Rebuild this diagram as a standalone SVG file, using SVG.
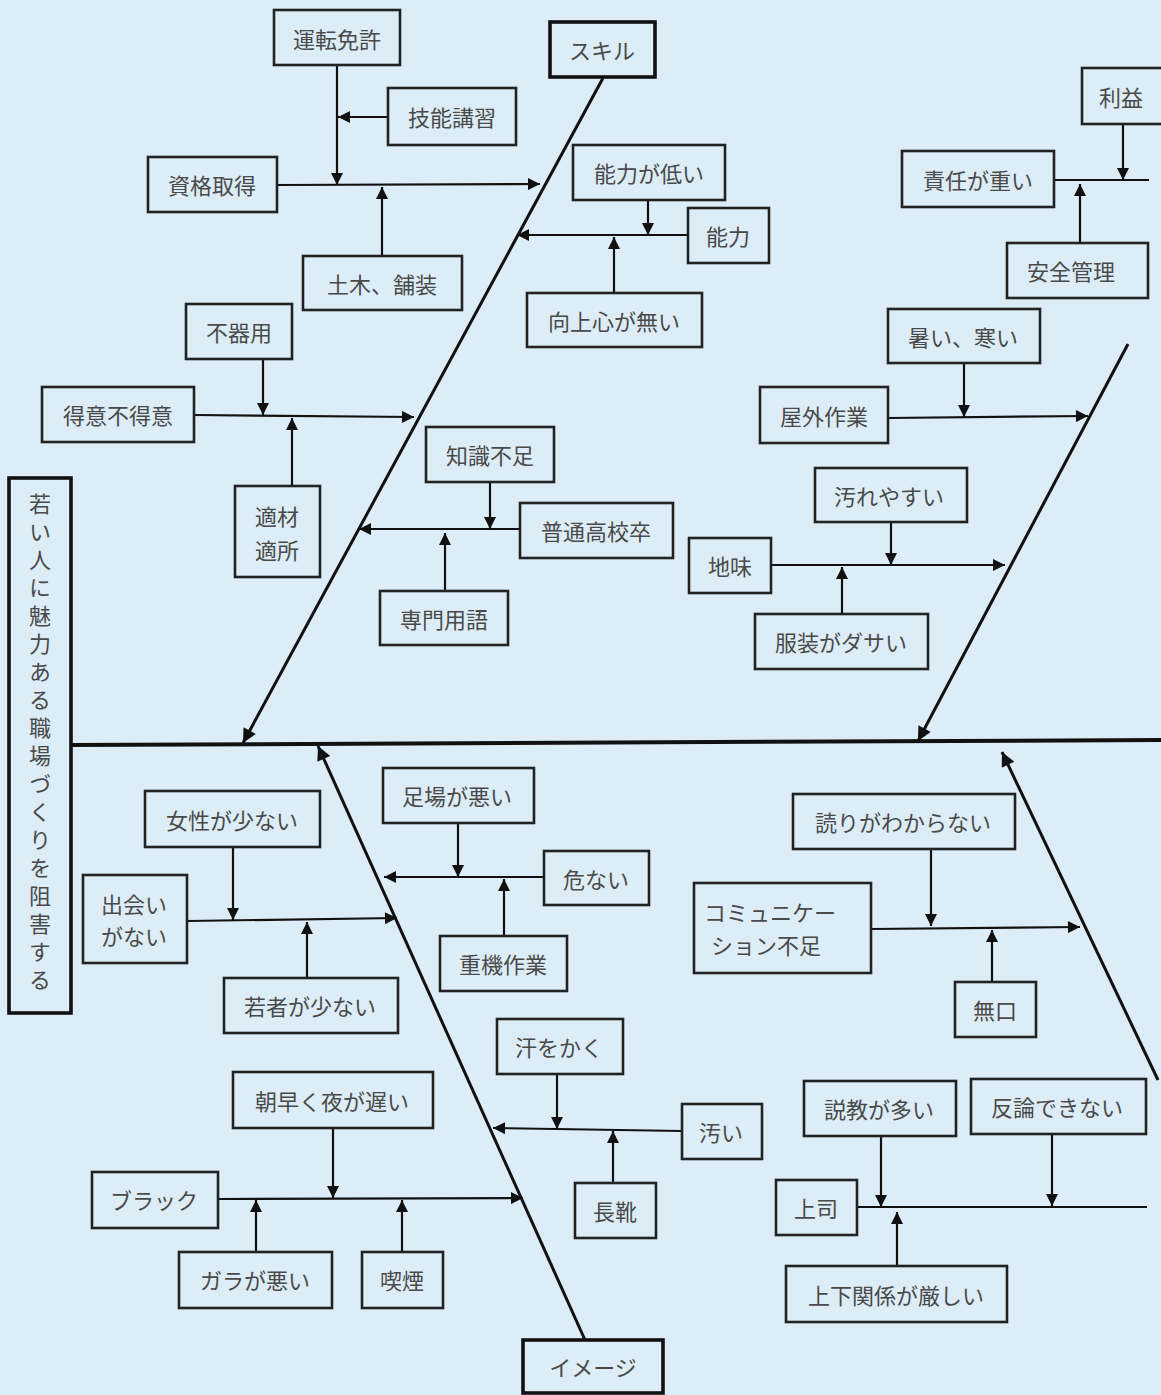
<svg xmlns="http://www.w3.org/2000/svg" width="1161" height="1395" viewBox="0 0 1161 1395">
<style>
.bx{fill:none;stroke:#222;stroke-width:2.6}
.bk{fill:none;stroke:#111;stroke-width:3.6}
.t{font-family:"Noto Sans CJK JP","Noto Sans",sans-serif;font-size:22px;fill:#4a4a4a;text-anchor:middle;dominant-baseline:central}
.ln{fill:none;stroke:#111;stroke-width:2.2}
.bone{fill:none;stroke:#111;stroke-width:3}
.spine{fill:none;stroke:#111;stroke-width:4}
</style>
<defs>
<marker id="ah" viewBox="0 0 10 10" refX="10" refY="5" markerWidth="13" markerHeight="12" markerUnits="userSpaceOnUse" orient="auto"><path d="M0,0 L10,5 L0,10 Z" fill="#111"/></marker>
<marker id="ahb" viewBox="0 0 10 10" refX="10" refY="5" markerWidth="17" markerHeight="14" markerUnits="userSpaceOnUse" orient="auto"><path d="M0,0 L10,5 L0,10 Z" fill="#111"/></marker>
</defs>
<rect width="1161" height="1395" fill="#dcedf7"/>

<g id="connectors">
<line class="spine" x1="70" y1="745" x2="1161" y2="740"/>
<line class="bone" x1="603" y1="78" x2="243" y2="743" marker-end="url(#ahb)"/>
<line class="bone" x1="585" y1="1340" x2="318" y2="746" marker-end="url(#ahb)"/>
<line class="bone" x1="1128" y1="344" x2="918" y2="741" marker-end="url(#ahb)"/>
<line class="bone" x1="1158" y1="1080" x2="1002" y2="752" marker-end="url(#ahb)"/>

<line class="ln" x1="277" y1="185" x2="540" y2="184" marker-end="url(#ah)"/>
<line class="ln" x1="337" y1="65" x2="337" y2="185" marker-end="url(#ah)"/>
<line class="ln" x1="388" y1="117" x2="338" y2="117" marker-end="url(#ah)"/>
<line class="ln" x1="382" y1="256" x2="382" y2="187" marker-end="url(#ah)"/>

<line class="ln" x1="688" y1="235" x2="517" y2="235" marker-end="url(#ah)"/>
<line class="ln" x1="648" y1="200" x2="648" y2="235" marker-end="url(#ah)"/>
<line class="ln" x1="614" y1="293" x2="614" y2="237" marker-end="url(#ah)"/>

<line class="ln" x1="194" y1="415" x2="414" y2="417" marker-end="url(#ah)"/>
<line class="ln" x1="263" y1="359" x2="263" y2="415" marker-end="url(#ah)"/>
<line class="ln" x1="292" y1="486" x2="292" y2="418" marker-end="url(#ah)"/>

<line class="ln" x1="520" y1="529" x2="359" y2="529" marker-end="url(#ah)"/>
<line class="ln" x1="490" y1="482" x2="490" y2="529" marker-end="url(#ah)"/>
<line class="ln" x1="445" y1="591" x2="445" y2="533" marker-end="url(#ah)"/>

<line class="ln" x1="1054" y1="180" x2="1149" y2="180"/>
<line class="ln" x1="1123" y1="124" x2="1123" y2="180" marker-end="url(#ah)"/>
<line class="ln" x1="1080" y1="243" x2="1080" y2="184" marker-end="url(#ah)"/>

<line class="ln" x1="888" y1="418" x2="1088" y2="416" marker-end="url(#ah)"/>
<line class="ln" x1="964" y1="363" x2="964" y2="417" marker-end="url(#ah)"/>
<line class="ln" x1="771" y1="565" x2="1005" y2="565" marker-end="url(#ah)"/>
<line class="ln" x1="891" y1="522" x2="891" y2="565" marker-end="url(#ah)"/>
<line class="ln" x1="842" y1="614" x2="842" y2="567" marker-end="url(#ah)"/>

<line class="ln" x1="187" y1="921" x2="397" y2="918" marker-end="url(#ah)"/>
<line class="ln" x1="233" y1="847" x2="233" y2="920" marker-end="url(#ah)"/>
<line class="ln" x1="307" y1="978" x2="307" y2="922" marker-end="url(#ah)"/>

<line class="ln" x1="544" y1="877" x2="384" y2="877" marker-end="url(#ah)"/>
<line class="ln" x1="458" y1="823" x2="458" y2="877" marker-end="url(#ah)"/>
<line class="ln" x1="504" y1="936" x2="504" y2="879" marker-end="url(#ah)"/>

<line class="ln" x1="682" y1="1131" x2="493" y2="1128" marker-end="url(#ah)"/>
<line class="ln" x1="557" y1="1074" x2="557" y2="1129" marker-end="url(#ah)"/>
<line class="ln" x1="613" y1="1183" x2="613" y2="1131" marker-end="url(#ah)"/>

<line class="ln" x1="218" y1="1199" x2="523" y2="1198" marker-end="url(#ah)"/>
<line class="ln" x1="333" y1="1128" x2="333" y2="1198" marker-end="url(#ah)"/>
<line class="ln" x1="256" y1="1252" x2="256" y2="1200" marker-end="url(#ah)"/>
<line class="ln" x1="402" y1="1252" x2="402" y2="1200" marker-end="url(#ah)"/>

<line class="ln" x1="871" y1="929" x2="1080" y2="927" marker-end="url(#ah)"/>
<line class="ln" x1="931" y1="849" x2="931" y2="926" marker-end="url(#ah)"/>
<line class="ln" x1="992" y1="982" x2="992" y2="930" marker-end="url(#ah)"/>

<line class="ln" x1="857" y1="1207" x2="1147" y2="1207"/>
<line class="ln" x1="881" y1="1136" x2="881" y2="1207" marker-end="url(#ah)"/>
<line class="ln" x1="1052" y1="1134" x2="1052" y2="1206" marker-end="url(#ah)"/>
<line class="ln" x1="897" y1="1266" x2="897" y2="1212" marker-end="url(#ah)"/>
</g>

<g id="title"><rect class="bk" x="9" y="478" width="62" height="535"/>
<text class="t" x="40" y="745" writing-mode="tb" style="letter-spacing:6px;font-size:22px">若い人に魅力ある職場づくりを阻害する</text></g>

<g id="skill"><rect class="bk" x="550" y="22" width="105" height="55"/><text class="t" x="602" y="49">スキル</text></g>
<g id="image"><rect class="bk" x="523" y="1340" width="140" height="53"/><text class="t" x="593" y="1366">イメージ</text></g>

<g id="n1"><rect class="bx" x="274" y="10" width="126" height="55"/><text class="t" x="337" y="38">運転免許</text></g>
<g id="n2"><rect class="bx" x="388" y="88" width="128" height="57"/><text class="t" x="452" y="116">技能講習</text></g>
<g id="n3"><rect class="bx" x="148" y="157" width="129" height="55"/><text class="t" x="212" y="184">資格取得</text></g>
<g id="n4"><rect class="bx" x="303" y="256" width="159" height="54"/><text class="t" x="382" y="283">土木、舗装</text></g>
<g id="n5"><rect class="bx" x="573" y="145" width="152" height="55"/><text class="t" x="649" y="172">能力が低い</text></g>
<g id="n6"><rect class="bx" x="688" y="208" width="81" height="55"/><text class="t" x="728" y="235">能力</text></g>
<g id="n7"><rect class="bx" x="527" y="293" width="175" height="54"/><text class="t" x="614" y="320">向上心が無い</text></g>
<g id="n8"><rect class="bx" x="186" y="304" width="106" height="55"/><text class="t" x="239" y="331">不器用</text></g>
<g id="n9"><rect class="bx" x="42" y="387" width="152" height="55"/><text class="t" x="118" y="414">得意不得意</text></g>
<g id="n10"><rect class="bx" x="235" y="486" width="85" height="91"/><text class="t" x="277" y="515">適材</text><text class="t" x="277" y="549">適所</text></g>
<g id="n11"><rect class="bx" x="426" y="427" width="128" height="55"/><text class="t" x="490" y="454">知識不足</text></g>
<g id="n12"><rect class="bx" x="520" y="503" width="153" height="55"/><text class="t" x="596" y="530">普通高校卒</text></g>
<g id="n13"><rect class="bx" x="380" y="591" width="128" height="54"/><text class="t" x="444" y="618">専門用語</text></g>

<g id="n14"><rect class="bx" x="1082" y="68" width="82" height="56"/><text class="t" x="1121" y="96">利益</text></g>
<g id="n15"><rect class="bx" x="902" y="151" width="152" height="56"/><text class="t" x="978" y="179">責任が重い</text></g>
<g id="n16"><rect class="bx" x="1007" y="243" width="141" height="55"/><text class="t" x="1071" y="270">安全管理</text></g>
<g id="n17"><rect class="bx" x="888" y="309" width="152" height="54"/><text class="t" x="963" y="336">暑い、寒い</text></g>
<g id="n18"><rect class="bx" x="760" y="387" width="128" height="56"/><text class="t" x="824" y="415">屋外作業</text></g>
<g id="n19"><rect class="bx" x="815" y="468" width="152" height="54"/><text class="t" x="889" y="495">汚れやすい</text></g>
<g id="n20"><rect class="bx" x="689" y="538" width="82" height="55"/><text class="t" x="730" y="565">地味</text></g>
<g id="n21"><rect class="bx" x="755" y="614" width="173" height="55"/><text class="t" x="841" y="641">服装がダサい</text></g>

<g id="n22"><rect class="bx" x="145" y="791" width="175" height="56"/><text class="t" x="232" y="819">女性が少ない</text></g>
<g id="n23"><rect class="bx" x="83" y="875" width="104" height="88"/><text class="t" x="134" y="903">出会い</text><text class="t" x="134" y="935">がない</text></g>
<g id="n24"><rect class="bx" x="224" y="978" width="174" height="55"/><text class="t" x="310" y="1005">若者が少ない</text></g>
<g id="n25"><rect class="bx" x="383" y="768" width="151" height="55"/><text class="t" x="457" y="795">足場が悪い</text></g>
<g id="n26"><rect class="bx" x="544" y="851" width="105" height="54"/><text class="t" x="596" y="878">危ない</text></g>
<g id="n27"><rect class="bx" x="440" y="936" width="127" height="55"/><text class="t" x="503" y="963">重機作業</text></g>
<g id="n28"><rect class="bx" x="497" y="1019" width="126" height="55"/><text class="t" x="559" y="1046">汗をかく</text></g>
<g id="n29"><rect class="bx" x="682" y="1104" width="80" height="55"/><text class="t" x="721" y="1131">汚い</text></g>
<g id="n30"><rect class="bx" x="575" y="1183" width="81" height="55"/><text class="t" x="615" y="1210">長靴</text></g>
<g id="n31"><rect class="bx" x="233" y="1072" width="200" height="56"/><text class="t" x="332" y="1100">朝早く夜が遅い</text></g>
<g id="n32"><rect class="bx" x="92" y="1172" width="126" height="56"/><text class="t" x="154" y="1199">ブラック</text></g>
<g id="n33"><rect class="bx" x="179" y="1252" width="153" height="56"/><text class="t" x="255" y="1279">ガラが悪い</text></g>
<g id="n34"><rect class="bx" x="362" y="1252" width="81" height="56"/><text class="t" x="402" y="1279">喫煙</text></g>

<g id="n35"><rect class="bx" x="793" y="794" width="222" height="55"/><text class="t" x="903" y="821">読りがわからない</text></g>
<g id="n36"><rect class="bx" x="694" y="883" width="177" height="90"/><text class="t" x="770" y="911">コミュニケー</text><text class="t" x="766" y="944">ション不足</text></g>
<g id="n37"><rect class="bx" x="955" y="982" width="81" height="55"/><text class="t" x="995" y="1009">無口</text></g>
<g id="n38"><rect class="bx" x="804" y="1081" width="152" height="55"/><text class="t" x="879" y="1108">説教が多い</text></g>
<g id="n39"><rect class="bx" x="971" y="1079" width="175" height="55"/><text class="t" x="1057" y="1106">反論できない</text></g>
<g id="n40"><rect class="bx" x="776" y="1180" width="81" height="55"/><text class="t" x="816" y="1207">上司</text></g>
<g id="n41"><rect class="bx" x="786" y="1266" width="221" height="56"/><text class="t" x="896" y="1294">上下関係が厳しい</text></g>
</svg>
